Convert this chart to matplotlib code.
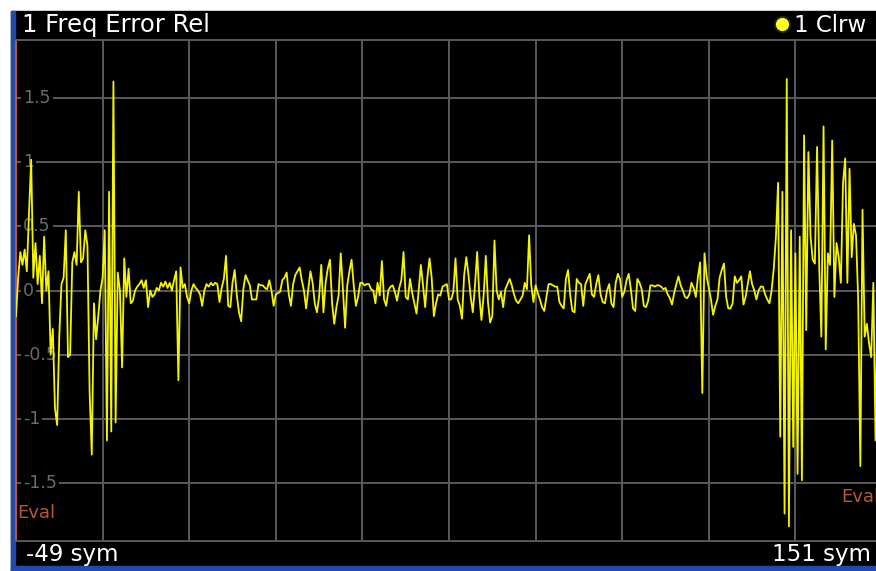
import matplotlib.pyplot as plt
import numpy as np
from matplotlib.patches import Rectangle
from matplotlib.colors import LinearSegmentedColormap
from matplotlib.transforms import blended_transform_factory

W, H = 876, 571

# trace: relative frequency error, one sample every half symbol from -49 sym
x_start = -49
x_stop = 151
sample_step = 0.5
freq_err = [
    # -49 .. -39.5
    -0.2, 0.1, 0.3, 0.2, 0.32, 0.15, 0.6, 1.02, 0.1, 0.37,
    0.05, 0.27, -0.1, 0.42, 0.0, 0.15, -0.5, -0.3, -0.92, -1.05,
    # -39 .. -29.5
    -0.35, 0.05, 0.1, 0.47, -0.52, -0.5, 0.22, 0.3, 0.2, 0.77,
    0.22, 0.25, 0.47, 0.35, -0.79, -1.28, -0.1, -0.38, -0.2, 0.0,
    # -29 .. -19.5
    0.1, 0.47, -1.17, 0.77, -1.1, 1.63, -1.03, 0.14, 0.0, -0.6,
    0.25, -0.05, 0.17, -0.1, -0.08, 0.0, 0.03, 0.05, 0.08, 0.02,
    # -19 .. -9.5
    0.08, -0.13, 0.0, -0.05, -0.03, 0.02, 0.0, 0.06, 0.03, 0.07,
    0.02, 0.06, 0.0, 0.08, 0.15, -0.7, 0.18, 0.02, 0.05, -0.05,
    # -9 .. 0.5
    -0.1, 0.0, 0.05, 0.02, 0.0, -0.03, -0.12, 0.0, 0.05, 0.03,
    0.06, 0.04, 0.06, 0.05, -0.09, 0.02, 0.09, 0.27, -0.12, -0.13,
    # 1 .. 10.5
    0.06, 0.16, -0.04, -0.17, -0.24, 0.01, 0.12, 0.08, 0.04, -0.07,
    -0.07, -0.07, 0.05, 0.04, 0.04, 0.02, 0.01, 0.08, 0.0, -0.12,
    # 11 .. 20.5
    -0.03, -0.02, -0.01, 0.08, 0.1, 0.14, -0.03, -0.12, 0.05, 0.12,
    0.15, 0.18, 0.08, 0.0, -0.14, 0.01, 0.15, 0.06, -0.1, -0.17,
    # 21 .. 30.5
    -0.05, 0.2, -0.17, 0.06, 0.17, 0.24, -0.1, -0.26, -0.13, -0.04,
    0.29, 0.01, -0.29, 0.04, 0.15, 0.24, 0.04, -0.12, -0.05, 0.06,
    # 31 .. 40.5
    0.06, 0.04, 0.05, 0.05, 0.01, 0.0, -0.1, 0.06, -0.04, 0.23,
    -0.07, -0.12, 0.0, 0.03, 0.04, -0.01, -0.08, 0.02, 0.08, 0.3,
    # 41 .. 50.5
    -0.05, -0.07, 0.09, -0.02, -0.1, -0.18, 0.0, 0.2, 0.04, -0.13,
    0.1, 0.25, 0.1, -0.2, -0.1, -0.03, -0.04, 0.03, 0.04, 0.05,
    # 51 .. 60.5
    -0.07, -0.07, -0.01, 0.25, -0.07, -0.12, -0.22, 0.12, 0.26, 0.12,
    -0.05, -0.17, 0.04, 0.3, -0.04, -0.23, -0.04, 0.27, -0.09, -0.25,
    # 61 .. 70.5
    -0.2, 0.39, 0.0, -0.07, -0.01, -0.13, 0.01, 0.05, 0.09, 0.04,
    -0.03, -0.08, -0.1, -0.07, -0.04, 0.06, 0.01, 0.43, 0.04, -0.09,
    # 71 .. 80.5
    0.04, -0.02, -0.07, -0.13, -0.16, -0.05, 0.05, 0.05, 0.04, 0.03,
    0.03, -0.09, -0.12, -0.14, 0.09, 0.16, -0.04, -0.16, -0.17, 0.09,
    # 81 .. 90.5
    0.06, 0.05, -0.12, 0.05, 0.09, 0.13, -0.03, -0.05, 0.05, 0.12,
    -0.03, -0.09, -0.1, 0.0, 0.05, -0.1, -0.13, 0.06, 0.13, 0.09,
    # 91 .. 100.5
    -0.05, -0.01, 0.08, 0.13, 0.01, -0.14, -0.16, 0.09, 0.06, 0.01,
    -0.12, -0.13, -0.08, 0.04, 0.04, 0.03, 0.04, 0.04, 0.03, 0.01,
    # 101 .. 110.5
    0.02, -0.03, -0.06, -0.11, -0.02, 0.05, 0.11, 0.04, 0.0, -0.05,
    -0.06, -0.03, 0.06, 0.02, -0.05, 0.11, 0.22, -0.8, 0.29, 0.11,
    # 111 .. 120.5
    0.02, -0.07, -0.19, -0.12, -0.07, 0.1, 0.16, 0.21, -0.05, -0.14,
    -0.14, -0.1, 0.11, 0.06, 0.08, 0.11, -0.11, -0.05, 0.05, 0.15,
    # 121 .. 130.5
    0.05, 0.0, -0.07, 0.0, 0.03, 0.03, -0.03, -0.07, -0.1, 0.0,
    0.17, 0.42, 0.84, -1.14, 0.77, -1.74, 1.65, -1.84, 0.47, -1.22,
    # 131 .. 140.5
    0.29, -1.43, 0.42, -1.48, 1.21, -0.31, 1.08, 0.42, 0.24, 0.21,
    1.12, 0.19, -0.36, 1.28, -0.46, 0.29, 0.2, 1.17, -0.05, 0.37,
    # 141 .. 150.5
    0.26, 0.06, 0.84, 1.03, 0.06, 0.95, 0.26, 0.52, 0.43, -0.07,
    -1.37, 0.63, -0.36, -0.26, -0.41, -0.52, 0.06, -1.17, 0.03, 0.1,
]
sym = x_start + sample_step * np.arange(len(freq_err))

y_ticks = [-1.5, -1, -0.5, 0, 0.5, 1, 1.5]
x_ticks = np.arange(x_start + 20, x_stop, 20)
y_lim = 1.954

title = "1 Freq Error Rel"
trace_label = "1 Clrw"
start_label = "-49 sym"
stop_label = "151 sym"

grid_col = "#5a5a5a"
label_col = "#646e6e"
eval_col = "#b8583a"
bar_blue = "#1f4aae"


def box(x0, y0, x1, y1):
    # pixel box (top-left origin) -> figure fraction
    return [x0 / W, 1 - y1 / H, (x1 - x0) / W, (y1 - y0) / H]


fig = plt.figure(figsize=(W / 100, H / 100), dpi=100, facecolor="white")

# frame: title bar, borders, bottom bar
bg = fig.add_axes([0, 0, 1, 1])
bg.set_xlim(0, W)
bg.set_ylim(H, 0)
bg.axis("off")
bg.add_patch(Rectangle((11, 11), W - 11, H - 11, color="black"))
grad = np.linspace(0, 1, 30)[:, None]
bar_cmap = LinearSegmentedColormap.from_list("bar", ["#3862c6", "#1b44a6"])
bg.imshow(grad, cmap=bar_cmap, extent=(11, W, 39, 11), aspect="auto")
bg.add_patch(Rectangle((11, 11), 4, H - 11, color=bar_blue))
bg.add_patch(Rectangle((11, 566), W - 11, 5, color=bar_blue))
bg.text(22, 25, title, color="white", fontsize=17.5, va="center", ha="left")
bg.plot(782, 24, "o", ms=11, mfc="#ffff20", mec="#202020", mew=1.5)
bg.text(794, 25, trace_label, color="white", fontsize=16.5, va="center", ha="left")
bg.text(26, 555, start_label, color="white", fontsize=16.5, va="center", ha="left")
bg.text(772, 555, stop_label, color="white", fontsize=16.5, va="center", ha="left")

# plot area
ax = fig.add_axes(box(16, 40, 882, 541), facecolor="black")
ax.set_xlim(x_start, x_stop)
ax.set_ylim(-y_lim, y_lim)
ax.set_xticks(x_ticks)
ax.set_yticks(y_ticks)
ax.tick_params(length=0, labelbottom=False, labelleft=False)
ax.grid(True, color=grid_col, lw=1.4, zorder=0)
ax.set_axisbelow(True)
for side in ["top", "bottom"]:
    ax.spines[side].set_color(grid_col)
    ax.spines[side].set_linewidth(1.4)
ax.spines["right"].set_visible(False)
ax.spines["left"].set_color(eval_col)
ax.spines["left"].set_linewidth(1.6)

tr = blended_transform_factory(ax.transAxes, ax.transData)
for v in y_ticks:
    ax.text(0.008, v, f"{v:g}", transform=tr, color=label_col, fontsize=12.5,
            va="center", ha="left", zorder=2,
            bbox=dict(facecolor="black", edgecolor="none", pad=1.5))

ax.text(0.002, -1.735, "Eval", transform=tr, color=eval_col, fontsize=13,
        va="center", ha="left")
# right limit marker label runs past the screen edge, as on the instrument
ax.text(0.953, -1.61, "Eval", transform=tr, color=eval_col, fontsize=13,
        va="center", ha="left")

ax.plot(sym, freq_err, color="#f4f400", lw=1.3, zorder=3)

fig.savefig("out.png", dpi=100, facecolor="white")
